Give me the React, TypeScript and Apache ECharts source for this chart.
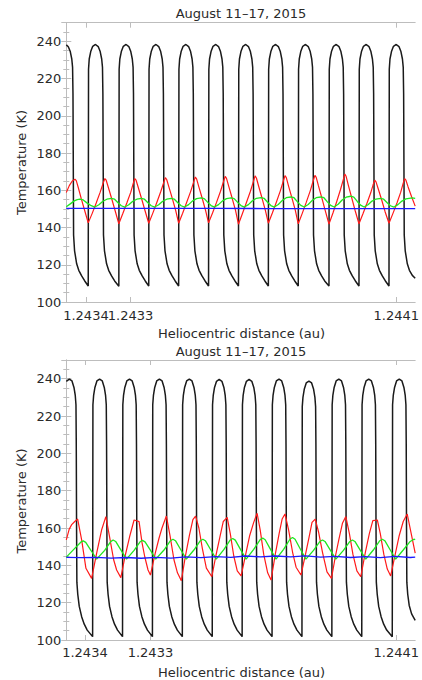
import React, { useEffect, useRef } from "react";
import * as echarts from "echarts";

// x: position along the track (arbitrary sample units across the plot), y: temperature (K)
const titleText = "August 11–17, 2015";
const yTitle = "Temperature (K)";
const xTitle = "Heliocentric distance (au)";

const topXTickPos = [19.7, 64.4, 331];
const topXTickLabels = ["1.2434", "1.2433", "1.2441"];
const botXTickPos = [18.7, 84.4, 331];
const botXTickLabels = ["1.2434", "1.2433", "1.2441"];

// ---------- Upper panel ----------
const topBlack: number[][] = [
  [0,238.1],[2,237.1],[4,234.5],[5.5,230.5],[6.3,226],[6.7,212],[7,175],[7.3,136],[8.3,127.5],[10.4,120.5],[12.5,117],[15.4,114],[18.5,111.3],[22,108.6],
  [22.3,225],[23,230.5],[24.5,234.5],[26.5,237.3],[29.3,238.3],[32,237.2],[34,234.5],[35.5,230.5],[36.3,226],[36.7,212],[37,175],[37.3,136],[38.3,127.5],[40.4,120.5],[42.5,117],[45.4,114],[48.5,111.3],[52.7,108.5],
  [53,225],[53.7,230.5],[55.2,234.5],[57.2,237.3],[60,238.3],[62.7,237.2],[64.7,234.5],[66.2,230.5],[67,226],[67.4,212],[67.7,175],[68,136],[69,127.5],[71.1,120.5],[73.2,117],[76.1,114],[79.2,111.3],[82.7,108.6],
  [83,225],[83.7,230.5],[85.2,234.5],[87.2,237.3],[90,238.3],[92.7,237.2],[94.7,234.5],[96.2,230.5],[97,226],[97.4,212],[97.7,175],[98,136],[99,127.5],[101.1,120.5],[103.2,117],[106.1,114],[109.2,111.3],[112.7,108.6],
  [113,225],[113.7,230.5],[115.2,234.5],[117.2,237.3],[120,238.3],[122.7,237.2],[124.7,234.5],[126.2,230.5],[127,226],[127.4,212],[127.7,175],[128,136],[129,127.5],[131.1,120.5],[133.2,117],[136.1,114],[139.2,111.3],[142.7,108.6],
  [143,225],[143.7,230.5],[145.2,234.5],[147.2,237.3],[150,238.3],[152.7,237.2],[154.7,234.5],[156.2,230.5],[157,226],[157.4,212],[157.7,175],[158,136],[159,127.5],[161.1,120.5],[163.2,117],[166.1,114],[169.2,111.3],[172.7,108.6],
  [173,225],[173.7,230.5],[175.2,234.5],[177.2,237.3],[180,238.3],[182.7,237.2],[184.7,234.5],[186.2,230.5],[187,226],[187.4,212],[187.7,175],[188,136],[189,127.5],[191.1,120.5],[193.2,117],[196.1,114],[199.2,111.3],[202.7,108.6],
  [203,225],[203.7,230.5],[205.2,234.5],[207.2,237.3],[210,238.3],[212.7,237.2],[214.7,234.5],[216.2,230.5],[217,226],[217.4,212],[217.7,175],[218,136],[219,127.5],[221.1,120.5],[223.2,117],[226.1,114],[229.2,111.3],[232.7,108.6],
  [233,225],[233.7,230.5],[235.2,234.5],[237.2,237.3],[240,238.3],[242.7,237.2],[244.7,234.5],[246.2,230.5],[247,226],[247.4,212],[247.7,175],[248,136],[249,127.5],[251.1,120.5],[253.2,117],[256.1,114],[259.2,111.3],[263.5,108.6],
  [263.8,225],[264.5,230.5],[266,234.5],[268,237.3],[270.8,238.3],[273.5,237.2],[275.5,234.5],[277,230.5],[277.8,226],[278.2,212],[278.5,175],[278.8,136],[279.8,127.5],[281.9,120.5],[284,117],[286.9,114],[290,111.3],[293.6,108.6],
  [293.9,225],[294.6,230.5],[296.1,234.5],[298.1,237.3],[300.9,238.3],[303.6,237.2],[305.6,234.5],[307.1,230.5],[307.9,226],[308.3,212],[308.6,175],[308.9,136],[309.9,127.5],[312,120.5],[314.1,117],[317,114],[320.1,111.3],[323.7,108.6],
  [324,225],[324.7,230.5],[326.2,234.5],[328.2,237.3],[331,238.3],[333.7,237.2],[335.7,234.5],[337.2,230.5],[338,226],[338.4,212],[338.7,175],[339,136],[340,127.5],[342.1,120.5],[344.2,117],[347.1,114.3],[350,112.8]
];

const topRed: number[][] = [
  [0,158.8],[3,162.5],[6,165],[8.7,165.9],[10,165.2],[12,161.5],[15,155.5],[18.5,149],
  [22,142.5],[26,147.6],[30,153.2],[34,159],[36.8,163.6],[38.7,166.3],[40,165.4],[42.2,161.5],[45.7,155.2],[49,149],
  [52.7,142],[56.7,147.5],[60.7,153.2],[64.7,159],[67,163.4],[68.7,166.3],[70,165.4],[72.2,161.5],[75.7,155.2],[79,149],
  [82.7,142.3],[86.7,147.6],[90.7,153.3],[94.7,159.2],[97.5,163.8],[99.4,166.8],[100.7,165.8],[102.9,161.8],[106.4,155.5],[109.7,149.2],
  [112.7,142.3],[116.7,147.7],[120.7,153.4],[124.7,159.3],[127.5,164],[129.4,167.1],[130.7,166.1],[132.9,162],[136.4,155.6],[139.7,149.2],
  [142.7,142.5],[146.7,147.8],[150.7,153.5],[154.7,159.5],[157.5,164.3],[159.4,167.5],[160.7,166.4],[162.9,162.2],[166.4,155.7],[169.7,149.3],
  [172.7,141.8],[176.7,147.5],[180.7,153.4],[184.7,159.5],[187.5,164.4],[189.4,167.7],[190.7,166.6],[192.9,162.3],[196.4,155.7],[199.7,149.2],
  [202.7,142.3],[206.7,147.8],[210.7,153.6],[214.7,159.7],[217.5,164.6],[219.4,167.9],[220.7,166.8],[222.9,162.4],[226.4,155.8],[229.7,149.3],
  [232.7,142],[236.7,147.6],[240.7,153.5],[244.7,159.7],[247.5,164.7],[249.4,168],[250.7,166.9],[252.9,162.5],[256.4,155.8],[259.7,149.2],
  [263.5,141.8],[267.5,147.8],[271.3,154],[275,160.3],[277.6,165.2],[279.4,168.7],[280.7,167.5],[282.9,162.8],[286.4,155.8],[289.8,149],
  [293.6,142],[297.6,147.4],[301.6,153],[305.3,158.5],[307.7,162.8],[309.4,165.4],[310.7,164.5],[312.9,160.8],[316.4,154.8],[319.8,148.5],
  [323.7,142.3],[327.7,147.6],[331.7,153.2],[335.5,159],[337.7,163.3],[339.4,166.3],[340.7,165.4],[342.9,161.8],[346.4,156.5],[350,151.5]
];

const topGreen: number[][] = [
  [0,151.2],[4,152.7],[8,154.3],[11,155],[13.7,155.2],[17,154.8],[21,153.1],[25,151.7],[28.7,151],
  [32.7,152.2],[36.7,154.1],[40.7,155.2],[45.4,155.6],[48.4,155.2],[51.9,153.3],[55.2,151.7],[58.7,151],
  [62.7,152.2],[66.7,154.1],[70.7,155.2],[75.4,155.6],[78.4,155.2],[81.9,153.3],[85.2,151.7],[88.7,151],
  [92.7,152.2],[96.7,154.1],[100.7,155.2],[105.4,155.6],[108.4,155.2],[111.9,153.3],[115.2,151.7],[118.7,151],
  [122.7,152.3],[126.7,154.3],[130.7,155.5],[135.4,155.9],[138.4,155.5],[141.9,153.5],[145.2,151.8],[148.7,151],
  [152.7,152.3],[156.7,154.3],[160.7,155.5],[165.4,155.9],[168.4,155.5],[171.9,153.5],[175.2,151.8],[178.7,151],
  [182.7,152.3],[186.7,154.4],[190.7,155.7],[195.4,156.1],[198.4,155.7],[201.9,153.6],[205.2,151.8],[208.7,151],
  [212.7,152.4],[216.7,154.6],[220.7,156],[225.4,156.4],[228.4,156],[231.9,153.8],[235.2,151.9],[238.7,151],
  [242.7,152.4],[246.7,154.6],[250.7,156],[255.4,156.4],[258.4,156],[261.9,153.8],[265.2,151.9],[268.7,151],
  [272.7,152.5],[276.7,154.8],[280.7,156.3],[285.4,156.8],[288.4,156.3],[291.9,154],[295.2,152],[298.7,151],
  [302.7,152.2],[306.7,154.2],[310.7,155.3],[315.4,155.6],[318.4,155.2],[321.9,153.3],[325.2,151.7],[328.7,151],
  [332.7,152.3],[336.7,154.2],[340.7,155.4],[347,155.9],[350,155.7]
];

const topBlue: number[][] = [
  [0,150.3],[50,150.3],[100,150.3],[150,150.3],[200,150.2],[250,150.2],[300,150.2],[350,150.1]
];

// ---------- Lower panel ----------
const botBlack: number[][] = [
  [0,238.6],[3,239.8],[5.7,238.8],[7.7,235.3],[9,231],[9.7,226],[10,205],[10.3,160],[10.6,131],[11.5,124.5],[13,118],[15.4,112.5],[18,108.5],[21,105.3],[26.4,101.8],
  [26.7,226],[27.4,231],[28.7,235.3],[30.7,238.8],[33.4,239.8],[36.1,238.8],[38.1,235.3],[39.4,231],[40.1,226],[40.4,205],[40.7,160],[41,131],[41.9,124.5],[43.4,118],[45.8,112.5],[48.4,108.5],[51.4,105.3],[56.4,101.8],
  [56.7,226],[57.4,231],[58.7,235.3],[60.7,238.8],[63.4,239.8],[66.1,238.8],[68.1,235.3],[69.4,231],[70.1,226],[70.4,205],[70.7,160],[71,131],[71.9,124.5],[73.4,118],[75.8,112.5],[78.4,108.5],[81.4,105.3],[86.4,101.8],
  [86.7,226],[87.4,231],[88.7,235.3],[90.7,238.8],[93.4,239.8],[96.1,238.8],[98.1,235.3],[99.4,231],[100.1,226],[100.4,205],[100.7,160],[101,131],[101.9,124.5],[103.4,118],[105.8,112.5],[108.4,108.5],[111.4,105.3],[116.4,101.8],
  [116.7,226],[117.4,231],[118.7,235.3],[120.7,238.8],[123.4,239.8],[126.1,238.8],[128.1,235.3],[129.4,231],[130.1,226],[130.4,205],[130.7,160],[131,131],[131.9,124.5],[133.4,118],[135.8,112.5],[138.4,108.5],[141.4,105.3],[146.4,101.8],
  [146.7,226],[147.4,231],[148.7,235.3],[150.7,238.6],[153.4,239.6],[156.1,238.6],[158.1,235.3],[159.4,231],[160.1,226],[160.4,205],[160.7,160],[161,131],[161.9,124.5],[163.4,118],[165.8,112.5],[168.4,108.5],[171.4,105.3],[176.4,101.8],
  [176.7,226],[177.4,231],[178.7,235.3],[180.7,238.6],[183.4,239.6],[186.1,238.6],[188.1,235.3],[189.4,231],[190.1,226],[190.4,205],[190.7,160],[191,131],[191.9,124.5],[193.4,118],[195.8,112.5],[198.4,108.5],[201.4,105.3],[206.4,101.8],
  [206.7,226],[207.4,231],[208.7,235.3],[210.7,238.8],[213.4,239.8],[216.1,238.8],[218.1,235.3],[219.4,231],[220.1,226],[220.4,205],[220.7,160],[221,131],[221.9,124.5],[223.4,118],[225.8,112.5],[228.4,108.5],[231.4,105.3],[236.4,101.8],
  [236.7,225],[237.4,230],[238.7,234.3],[240.7,237.7],[243.4,238.7],[246.1,237.7],[248.1,234.3],[249.4,230],[250.1,225],[250.4,205],[250.7,160],[251,131],[251.9,124.5],[253.4,118],[255.8,112.5],[258.4,108.5],[261.4,105.3],[266.4,101.8],
  [266.7,226],[267.4,231],[268.7,235.3],[270.7,238.8],[273.4,239.8],[276.1,238.8],[278.1,235.3],[279.4,231],[280.1,226],[280.4,205],[280.7,160],[281,131],[281.9,124.5],[283.4,118],[285.8,112.5],[288.4,108.5],[291.4,105.3],[296.4,101.8],
  [296.7,226],[297.4,231],[298.7,235.3],[300.7,238.8],[303.4,239.8],[306.1,238.8],[308.1,235.3],[309.4,231],[310.1,226],[310.4,205],[310.7,160],[311,131],[311.9,124.5],[313.4,118],[315.8,112.5],[318.4,108.5],[321.4,105.3],[327,101.8],
  [327.3,226],[328,231],[329.3,235.3],[331.3,238.8],[334,239.8],[336.7,238.8],[338.7,235.3],[340,231],[340.7,226],[341,205],[341.3,160],[341.6,131],[342.5,124.5],[344,118.5],[346.4,114],[350,110.5]
];

const botRed: number[][] = [
  [0,153.6],[3,159.5],[5.4,161.8],[8.5,163.5],[11.4,164.8],[15.4,153.6],[19.7,138.4],[25.4,133],
  [30.4,146.4],[35.4,158.9],[39.7,166.1],[43.5,155],[47.5,143],[50.5,137.5],[54.7,133.4],
  [59,145],[63.5,155.3],[68,164.3],[73,163.4],[76,152],[78.7,144.6],[82,137.5],[84.4,134.8],
  [89,146],[93,154.5],[96,160],[100.4,166.4],[104,156],[108,143],[111.5,136],[115.4,131.8],
  [119.5,145],[123.5,156],[127,164.5],[129.7,166.4],[133,160],[136.5,149],[140.5,138.5],[146,133.9],
  [150,145],[154,155],[157.5,163.5],[161.4,165.7],[164.5,157],[168,145],[171.5,137],[175.4,134.3],
  [180,146],[184,156],[188,163],[191.4,167.9],[194.5,159],[198,146],[202,136],[205.4,132.1],
  [210,147],[213.5,157],[216.5,164.8],[219.4,167.5],[223,159],[227,147],[230.5,139],[235.4,134.8],
  [240,146],[243.5,155],[246.5,163],[249.7,164.8],[253,158],[257,147],[261.5,136.5],[266,133],
  [270,145],[273.5,154],[277,162.5],[280.4,166.1],[284,157],[287.5,146],[291.5,137],[295.4,133.9],
  [300,147],[304,157],[307.5,164],[312,164.3],[315,157],[318.5,146],[322,138],[325.4,134.3],
  [330,146],[334,156],[338,163.5],[342,167.5],[346,157],[350,146.5]
];

const botGreen: number[][] = [
  [0,144.4],[8,148.8],[14.5,152.4],[17,153.1],[19.5,152.3],[25,147.8],[30.4,143.3],
  [38.5,148],[44.5,152.7],[47,153.6],[49.5,152.8],[55,148],[60.4,143.3],
  [68,148],[74,152.6],[76.4,153.4],[79,152.6],[84.5,148],[89.7,143.3],
  [98,148.2],[104.5,153.2],[107,154],[109.5,153.2],[115,148.2],[120.4,143.3],
  [128,148.2],[134.5,153.2],[137,154],[139.5,153.2],[145,148.2],[150.4,143.3],
  [158,148.4],[164.5,153.6],[167,154.4],[169.5,153.5],[175,148.3],[180.4,143.3],
  [188,148.5],[194.5,153.8],[197,154.6],[199.5,153.7],[205,148.4],[210.4,143.3],
  [218,148.6],[224.5,154.1],[227,154.9],[229.5,154],[235,148.5],[240.4,143.3],
  [248,148],[254.5,152.8],[257,153.6],[259.5,152.8],[265,148],[270.4,143.3],
  [278,148],[284.5,152.8],[287,153.6],[289.5,152.8],[295,148],[300.4,143.3],
  [308,148.2],[314.5,153.2],[317,154],[319.5,153.2],[325,148.2],[330.4,143.3],
  [338,148.2],[345,152.8],[348.7,154],[350,153.8]
];

const botBlue: number[][] = [
  [0,144.3],[15,144.1],[30,144.3],[45,143.9],[60,144.2],[75,143.8],[90,144.3],[105,143.9],[120,144.5],[135,144.1],
  [150,144.7],[165,144.3],[180,145],[195,144.5],[210,145],[225,144.5],[240,145.1],[255,144.4],[270,144.8],[285,144.2],
  [300,144.7],[315,144.1],[330,144.8],[345,144.2],[350,144.4]
];

const FONT = "DejaVu Sans";
const AXIS_GRAY = "#bdbdbd";
const TEXT = "#2a2a2a";

function labelFor(pos: number[], labels: string[]) {
  return (v: number) => {
    for (let i = 0; i < pos.length; i++) if (Math.abs(pos[i] - v) < 1e-6) return labels[i];
    return "";
  };
}

const xCommon = (gridIndex: number) => ({
  type: "value" as const,
  gridIndex,
  min: 0,
  max: 350,
  splitLine: { show: false },
});

function labelStyle(margin: number) {
  return { margin, fontFamily: FONT, fontSize: 13, color: TEXT, hideOverlap: false };
}

// Main axes for a grid: bottom axis (ticks + some labels), top mirror axis,
// and an extra label-only bottom axis so that adjacent labels may touch.
function xAxes(gridIndex: number, pos: number[], labels: string[], margin: number, split: number[][]) {
  const axisLine = { show: true, lineStyle: { color: AXIS_GRAY, width: 1 } };
  const tick = { show: true, inside: true, length: 5, customValues: pos, lineStyle: { color: AXIS_GRAY } };
  const fmt = labelFor(pos, labels);
  return [
    {
      ...xCommon(gridIndex),
      position: "bottom",
      axisLine,
      axisTick: tick,
      axisLabel: { show: true, customValues: split[0], formatter: fmt, ...labelStyle(margin) },
    },
    {
      ...xCommon(gridIndex),
      position: "top",
      axisLine,
      axisTick: tick,
      axisLabel: { show: false },
    },
    {
      ...xCommon(gridIndex),
      position: "bottom",
      axisLine: { show: false },
      axisTick: { show: false },
      axisLabel: { show: true, customValues: split[1], formatter: fmt, ...labelStyle(margin) },
    },
  ];
}

function yAxes(gridIndex: number) {
  const common = {
    type: "value" as const,
    gridIndex,
    min: 100,
    max: 250,
    interval: 20,
    splitLine: { show: false },
    axisLine: { show: true, lineStyle: { color: AXIS_GRAY, width: 1 } },
    axisTick: { show: true, inside: true, length: 5, lineStyle: { color: AXIS_GRAY } },
    minorTick: { show: true, splitNumber: 4, length: 3, lineStyle: { color: AXIS_GRAY } },
  };
  return [
    {
      ...common,
      position: "left",
      axisLabel: {
        show: true,
        margin: 5,
        fontFamily: FONT,
        fontSize: 13,
        color: TEXT,
        showMaxLabel: false,
        formatter: (v: number) => (v % 20 === 0 ? String(v) : ""),
      },
    },
    { ...common, position: "right", axisLabel: { show: false } },
  ];
}

function lineSeries(data: number[][], color: string, width: number, xi: number, yi: number) {
  return {
    type: "line",
    data,
    xAxisIndex: xi,
    yAxisIndex: yi,
    showSymbol: false,
    symbol: "none",
    silent: true,
    clip: true,
    lineStyle: { color, width },
  };
}

function txt(x: number, y: number, text: string, rotation = 0) {
  return {
    type: "text",
    x,
    y,
    rotation,
    style: {
      text,
      fontFamily: FONT,
      fontSize: 13,
      fill: TEXT,
      align: "center",
      verticalAlign: "middle",
    },
  };
}

export default function App() {
  const ref = useRef<HTMLDivElement>(null);
  useEffect(() => {
    document.body.style.margin = "0";
    if (!ref.current) return;
    const chart = echarts.init(ref.current, undefined, { renderer: "svg" });
    chart.setOption({
      animation: false,
      backgroundColor: "#ffffff",
      grid: [
        { left: 66.3, top: 22.7, width: 350.4, height: 279.3, containLabel: false },
        { left: 66.3, top: 360, width: 350.4, height: 280, containLabel: false },
      ],
      xAxis: [
        // 0,1,2 -> upper grid ; 3,4,5 -> lower grid
        ...xAxes(0, topXTickPos, topXTickLabels, 7, [[topXTickPos[1], topXTickPos[2]], [topXTickPos[0]]]),
        ...xAxes(1, botXTickPos, botXTickLabels, 6, [[botXTickPos[1], botXTickPos[2]], [botXTickPos[0]]]),
      ],
      yAxis: [...yAxes(0), ...yAxes(1)],
      series: [
        lineSeries(topBlack, "#1a1a1a", 1.5, 0, 0),
        lineSeries(topRed, "#ff1a1a", 1.2, 0, 0),
        lineSeries(topGreen, "#1ee81e", 1.3, 0, 0),
        lineSeries(topBlue, "#1a1aff", 1.3, 0, 0),
        lineSeries(botBlack, "#1a1a1a", 1.5, 3, 2),
        lineSeries(botRed, "#ff1a1a", 1.2, 3, 2),
        lineSeries(botGreen, "#1ee81e", 1.3, 3, 2),
        lineSeries(botBlue, "#1a1aff", 1.3, 3, 2),
      ],
      graphic: [
        txt(241, 13.5, titleText),
        txt(241, 351, titleText),
        txt(21.5, 162.5, yTitle, Math.PI / 2),
        txt(21.5, 501, yTitle, Math.PI / 2),
        txt(241.5, 333.5, xTitle),
        txt(241.5, 672, xTitle),
      ],
    });
    return () => chart.dispose();
  }, []);
  return <div ref={ref} style={{ width: 422, height: 680 }} />;
}
